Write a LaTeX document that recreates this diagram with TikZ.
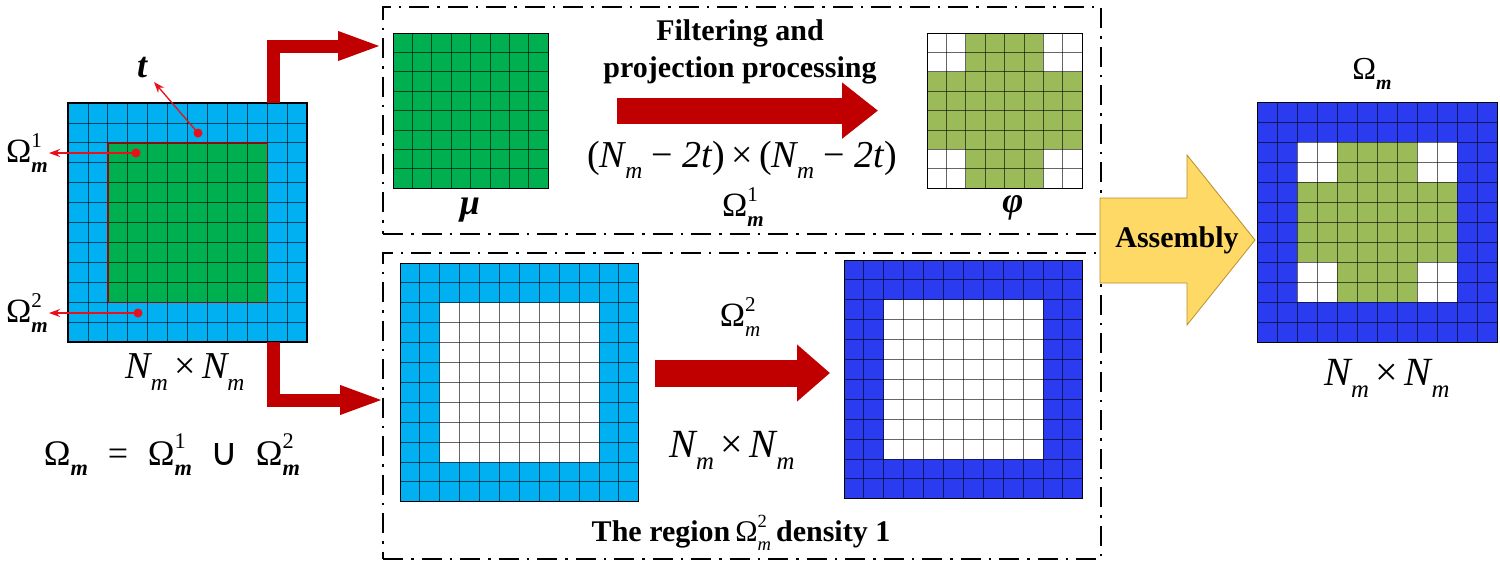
\documentclass[tikz,border=0pt]{standalone}
\usepackage{fontspec}
\setmainfont{Liberation Serif}
\newfontfamily\djv{DejaVu Sans}
\usetikzlibrary{arrows.meta,calc}
\definecolor{lblue}{HTML}{00B0F0}
\definecolor{ggreen}{HTML}{00B050}
\definecolor{olive}{HTML}{9BBB59}
\definecolor{dblue}{HTML}{2B3BF0}
\definecolor{arrred}{HTML}{C00000}
\definecolor{ptred}{HTML}{E8101A}
\definecolor{bordred}{HTML}{8B0A0A}
\definecolor{ayellow}{HTML}{FFD966}
\definecolor{agold}{HTML}{B8902A}
\makeatletter
\newcommand\rsz{\fontsize{\fpeval{0.62*\f@size}}{\fpeval{0.62*\f@size}}\selectfont}
\makeatother
\newcommand\bim{{\bfseries\itshape m}}
\newcommand\OmSS[2]{Ω\rlap{\raisebox{0.45em}{\rsz #1}}\raisebox{-0.3em}{\rsz #2}}
\newcommand\Nm{{\itshape N}\raisebox{-0.3em}{\rsz\itshape m}}
\newcommand\gridlines[4]{%
  \foreach \k in {0,...,#3}{%
    \draw[gl] ({#1+\k*#4},#2) -- ({#1+\k*#4},{#2+#3*#4});
    \draw[gl] (#1,{#2+\k*#4}) -- ({#1+#3*#4},{#2+\k*#4});
  }}
\newcommand\phipat[3]{%
  \fill[olive] ({#1+2*#3},#2) rectangle ({#1+6*#3},{#2+8*#3});
  \fill[olive] (#1,{#2+2*#3}) rectangle ({#1+8*#3},{#2+6*#3});}
\begin{document}
\begin{tikzpicture}[x=1pt,y=-1pt,
  gl/.style={draw=black, opacity=0.6, line width=0.9pt},
  dbox/.style={draw=black, line width=2pt, dash pattern=on 20pt off 8pt on 2.5pt off 8pt, inner sep=0, anchor=north west, minimum width=718pt},
  gbox/.style={inner sep=0, outer sep=0, anchor=north west},
  bigred/.style={draw=arrred, line width=13pt, line join=miter, -{Triangle[length=45pt,width=26pt]}},
  redarr/.style={draw=ptred, line width=1.3pt, -{Stealth[length=11pt,width=8pt]}},
  dot/.style={circle, fill=ptred, inner sep=0, minimum size=9pt},
  lab/.style={inner sep=0, font=\fontsize{36}{40}\selectfont},
  btxt/.style={inner sep=0, font=\fontsize{30}{36}\selectfont\bfseries},
]
\useasboundingbox (0,0) rectangle (1500,565);
\fill[white] (0,0) rectangle (1500,565);

% dashed boxes
\node[dbox, minimum height=227pt] (B1) at (382,6) {};
\node[dbox, minimum height=306pt] (B2) at (382,252) {};

% left grid
\node[gbox, minimum size=239.4pt] (G) at (68,103) {};
\fill[lblue] (68,103) rectangle (307.4,342.4);
\fill[ggreen] (107.9,142.9) rectangle (267.5,302.5);
\gridlines{68}{103}{12}{19.95}
\draw[bordred, line width=1.5pt] (107.9,142.9) rectangle (267.5,302.5);
\draw[black, line width=2pt] (68,103) rectangle (307.4,342.4);

% L arrows
\coordinate (tipA) at (383,46);
\coordinate (tipB) at (385,400);
\draw[bigred] ([xshift=-34pt]G.north east) |- (tipA);
\draw[bigred] ([xshift=-34pt]G.south east) |- (tipB);

% red pointers
\node[dot] (d1) at (198,133) {};
\node[dot] (d2) at (136,153) {};
\node[dot] (d3) at (138,313) {};
\node[lab, font=\fontsize{36}{40}\selectfont\bfseries\itshape] (tL) at (142,68) {t};
\node[lab, font=\fontsize{34}{38}\selectfont, anchor=east] (O1L) at (48,153) {\OmSS{1}{\bim}};
\node[lab, font=\fontsize{34}{38}\selectfont, anchor=east] (O2L) at (48,313) {\OmSS{2}{\bim}};
\coordinate (e1) at (154,82);
\coordinate (e2) at (49,153);
\coordinate (e3) at (49,313);
\draw[redarr] (d1.center) -- (e1);
\draw[redarr] (d2.center) -- (e2);
\draw[redarr] (d3.center) -- (e3);

\node[lab, font=\fontsize{38}{40}\selectfont] (NNL) at (185,372) {\Nm\,×\,\Nm};
\node[lab] (EQ) at (172,455) {\OmSS{}{\bim}\hspace{0.55em}=\hspace{0.55em}\OmSS{1}{\bim}\hspace{0.5em}{\djv\fontsize{38}{38}\selectfont ∪}\hspace{0.5em}\OmSS{2}{\bim}};

% mu grid
\node[gbox, minimum size=155.2pt] (MU) at (393,33) {};
\fill[ggreen] (393,33) rectangle ++(155.2,155.2);
\gridlines{393}{33}{8}{19.4}
\draw[black, line width=1pt] (393,33) rectangle ++(155.2,155.2);
\node[lab, font=\fontsize{36}{40}\selectfont\bfseries\itshape] (MUL) at (470,210) {μ};

% phi grid
\node[gbox, minimum size=155.2pt] (PHI) at (927,33) {};
\phipat{927}{33}{19.4}
\gridlines{927}{33}{8}{19.4}
\draw[black, line width=1pt] (927,33) rectangle ++(155.2,155.2);
\node[lab, font=\fontsize{36}{40}\selectfont\bfseries\itshape] (PHIL) at (1013,208) {φ};

% top middle
\node[btxt] (F1) at (740,33) {Filtering and};
\node[btxt] (F2) at (740,70) {projection processing};
\draw[draw=arrred, line width=26pt, -{Triangle[length=36pt,width=54pt]}] ([xshift=69pt]MU.east) -- ([xshift=-49pt]PHI.west);
\node[lab, font=\fontsize{38}{40}\selectfont] (EXPR) at (742,160) {(\Nm\ − {\itshape 2t})\,×\,(\Nm\ − {\itshape 2t})};
\node[lab, font=\fontsize{34}{36}\selectfont] (O1T) at (743,207) {\OmSS{1}{\bim}};

% bottom left grid
\node[gbox, minimum size=238.8pt] (LB) at (400,263) {};
\fill[lblue] (400,263) rectangle ++(238.8,238.8);
\fill[white] (439.8,302.8) rectangle ++(159.2,159.2);
\gridlines{400}{263}{12}{19.9}
\draw[black, line width=1pt] (400,263) rectangle ++(238.8,238.8);

% bottom blue grid
\node[gbox, minimum size=238.8pt] (BB) at (844,260) {};
\fill[dblue] (844,260) rectangle ++(238.8,238.8);
\fill[white] (883.8,299.8) rectangle ++(159.2,159.2);
\gridlines{844}{260}{12}{19.9}
\draw[black, line width=1pt] (844,260) rectangle ++(238.8,238.8);

\coordinate (a3s) at (655,373);
\coordinate (a3e) at (830,373);
\draw[draw=arrred, line width=27pt, -{Triangle[length=33pt,width=55pt]}] (a3s) -- (a3e);
\node[lab, font=\fontsize{34}{36}\selectfont] (O2B) at (740,317) {\OmSS{2}{\itshape m}};
\node[lab, font=\fontsize{40}{44}\selectfont] (NNB) at (732,450) {\Nm\,×\,\Nm};
\node[btxt] (REG) at (741,533) {The region\,{\mdseries\OmSS{2}{\itshape m}}\,density 1};

% assembly arrow
\draw[fill=ayellow, draw=agold, line width=0.8pt] (1100,198) -- (1187,198) -- (1187,155) -- (1255,240) -- (1187,325) -- (1187,283) -- (1100,283) -- cycle;
\node[btxt] (ASM) at (1177,240) {Assembly};

% final grid
\node[gbox, minimum size=240pt] (FG) at (1257,102) {};
\fill[dblue] (1257,102) rectangle ++(240,240);
\fill[white] (1297,142) rectangle ++(160,160);
\phipat{1297}{142}{20}
\gridlines{1257}{102}{12}{20}
\draw[black, line width=1pt] (1257,102) rectangle ++(240,240);
\node[lab, font=\fontsize{32}{36}\selectfont] (OMR) at (1372,74) {\OmSS{}{\bim}};
\node[lab, font=\fontsize{40}{44}\selectfont] (NNR) at (1387,378) {\Nm\,×\,\Nm};
\end{tikzpicture}
\end{document}
